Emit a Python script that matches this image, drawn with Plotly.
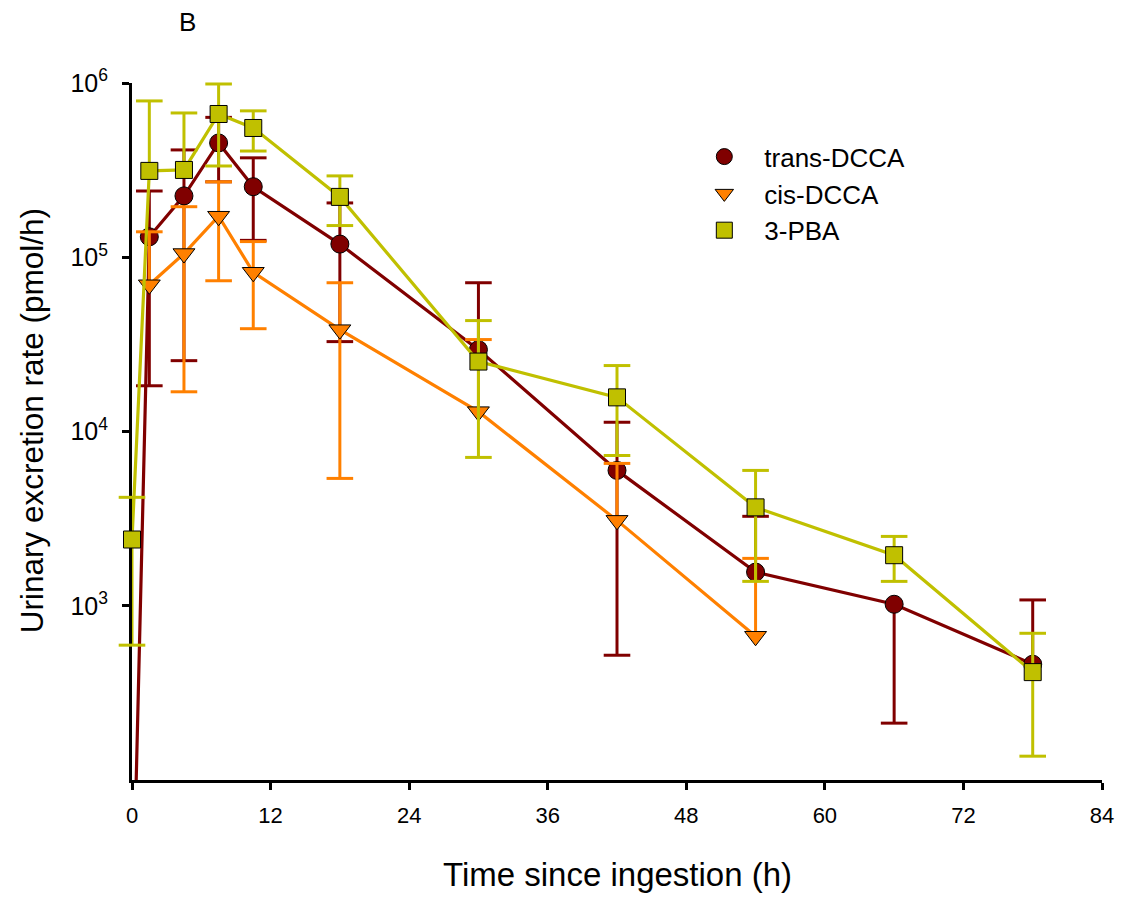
import plotly.graph_objects as go

# Sampling times (h after ingestion)
time_h = [0, 1.5, 4.5, 7.5, 10.5, 18, 30, 42, 54, 66, 78]

# trans-DCCA: mean rate and error-bar ends (pmol/h)
trans_mean = [10, 1.31e5, 2.25e5, 4.53e5, 2.54e5, 1.19e5, 2.95e4, 5.98e3, 1.56e3, 1.02e3, 462]
trans_upper = [None, 2.40e5, 4.13e5, 6.35e5, 3.72e5, 2.05e5, 7.14e4, 1.13e4, 3.26e3, None, 1.08e3]
trans_lower = [None, 1.83e4, 2.55e4, 2.71e5, 1.25e5, 3.28e4, None, 520, None, 212, None]

# cis-DCCA
cis_mean = [None, 6.95e4, 1.05e5, 1.72e5, 8.2e4, 3.84e4, 1.30e4, 3.09e3, 668, None, None]
cis_upper = [None, 1.40e5, 1.95e5, 2.71e5, 1.23e5, 7.14e4, 3.37e4, 6.56e3, 1.87e3, None, None]
cis_lower = [None, None, 1.69e4, 7.33e4, 3.89e4, 5.38e3, None, None, None, None, None]

# 3-PBA
pba_mean = [2.40e3, 3.13e5, 3.17e5, 6.64e5, 5.52e5, 2.22e5, 2.52e4, 1.57e4, 3.67e3, 1.95e3, 416]
pba_upper = [4.19e3, 7.89e5, 6.73e5, 9.87e5, 6.92e5, 2.93e5, 4.33e4, 2.39e4, 5.98e3, 2.50e3, 695]
pba_lower = [594, None, None, 3.34e5, 4.07e5, 1.52e5, 7.10e3, 7.28e3, 1.38e3, 1.38e3, 137]

x_ticks = [0, 12, 24, 36, 48, 60, 72, 84]
y_ticks = [1e3, 1e4, 1e5, 1e6]
y_ticktext = ["10<sup>3</sup>", "10<sup>4</sup>", "10<sup>5</sup>", "10<sup>6</sup>"]

FONT = "Arial, Liberation Sans, sans-serif"

series = [
    ("trans-DCCA", trans_mean, trans_upper, trans_lower, "#800000", "circle", 18),
    ("cis-DCCA", cis_mean, cis_upper, cis_lower, "#FF8000", "triangle-down", 19),
    ("3-PBA", pba_mean, pba_upper, pba_lower, "#C0C000", "square", 17),
]

fig = go.Figure()

for name, mean, upper, lower, color, symbol, msize in series:
    # error bar stems (one-sided where only one end exists)
    sx, sy, cx, cy = [], [], [], []
    for t, m, u, lo in zip(time_h, mean, upper, lower):
        if m is None:
            continue
        for end in (u, lo):
            if end is not None:
                sx += [t, t, None]
                sy += [m, end, None]
                cx.append(t)
                cy.append(end)
    fig.add_trace(go.Scatter(
        x=sx, y=sy, mode="lines", showlegend=False, hoverinfo="skip",
        line=dict(color=color, width=3),
    ))
    # error bar caps
    fig.add_trace(go.Scatter(
        x=cx, y=cy, mode="markers", showlegend=False, hoverinfo="skip",
        cliponaxis=False,
        marker=dict(symbol="line-ew", size=19, line=dict(color=color, width=3)),
    ))
    # mean curve
    fig.add_trace(go.Scatter(
        x=time_h, y=mean, mode="lines+markers", name=name, showlegend=False,
        cliponaxis=False,
        line=dict(color=color, width=3.2),
        marker=dict(symbol=symbol, size=msize, color=color,
                    line=dict(color="black", width=1)),
    ))

# legend entries (symbol only)
for name, mean, upper, lower, color, symbol, msize in series:
    fig.add_trace(go.Scatter(
        x=[None], y=[None], mode="markers", name=name,
        marker=dict(symbol=symbol, size=msize, color=color,
                    line=dict(color="black", width=1)),
    ))

fig.update_layout(
    width=1126, height=899, autosize=False,
    margin=dict(l=132, r=21, t=83, b=119),
    plot_bgcolor="white", paper_bgcolor="white",
    font=dict(family=FONT, color="black", size=22),
    showlegend=True,
    legend=dict(
        x=0.5694, y=0.928, xanchor="left", yanchor="top",
        bgcolor="rgba(0,0,0,0)", font=dict(size=26, family=FONT),
        itemsizing="trace", itemwidth=70,
    ),
    xaxis=dict(
        range=[0, 84], tickvals=x_ticks, ticks="outside", ticklen=7, tickwidth=2.5,
        tickcolor="black", showline=True, linecolor="black", linewidth=3,
        showgrid=False, zeroline=False, tickfont=dict(size=22, family=FONT),
        ticklabelstandoff=7, layer="below traces",
    ),
    yaxis=dict(
        type="log", range=[2, 6], tickvals=y_ticks, ticktext=y_ticktext,
        ticks="outside", ticklen=7, tickwidth=2.5, tickcolor="black",
        showline=True, linecolor="black", linewidth=3, showgrid=False,
        zeroline=False, tickfont=dict(size=25, family=FONT),
        ticklabelstandoff=9, layer="below traces",
    ),
    annotations=[
        dict(text="Time since ingestion (h)", xref="paper", yref="paper",
             x=0.5, y=-0.136, xanchor="center", yanchor="middle",
             showarrow=False, font=dict(size=33, family=FONT)),
        dict(text="Urinary excretion rate (pmol/h)", xref="paper", yref="paper",
             x=-0.1028, y=0.515, xanchor="center", yanchor="middle", textangle=-90,
             showarrow=False, font=dict(size=31.5, family=FONT)),
        dict(text="B", xref="paper", yref="paper",
             x=0.0576, y=1.0875, xanchor="center", yanchor="middle",
             showarrow=False, font=dict(size=26, family=FONT)),
    ],
)

fig.write_html("out.html")
